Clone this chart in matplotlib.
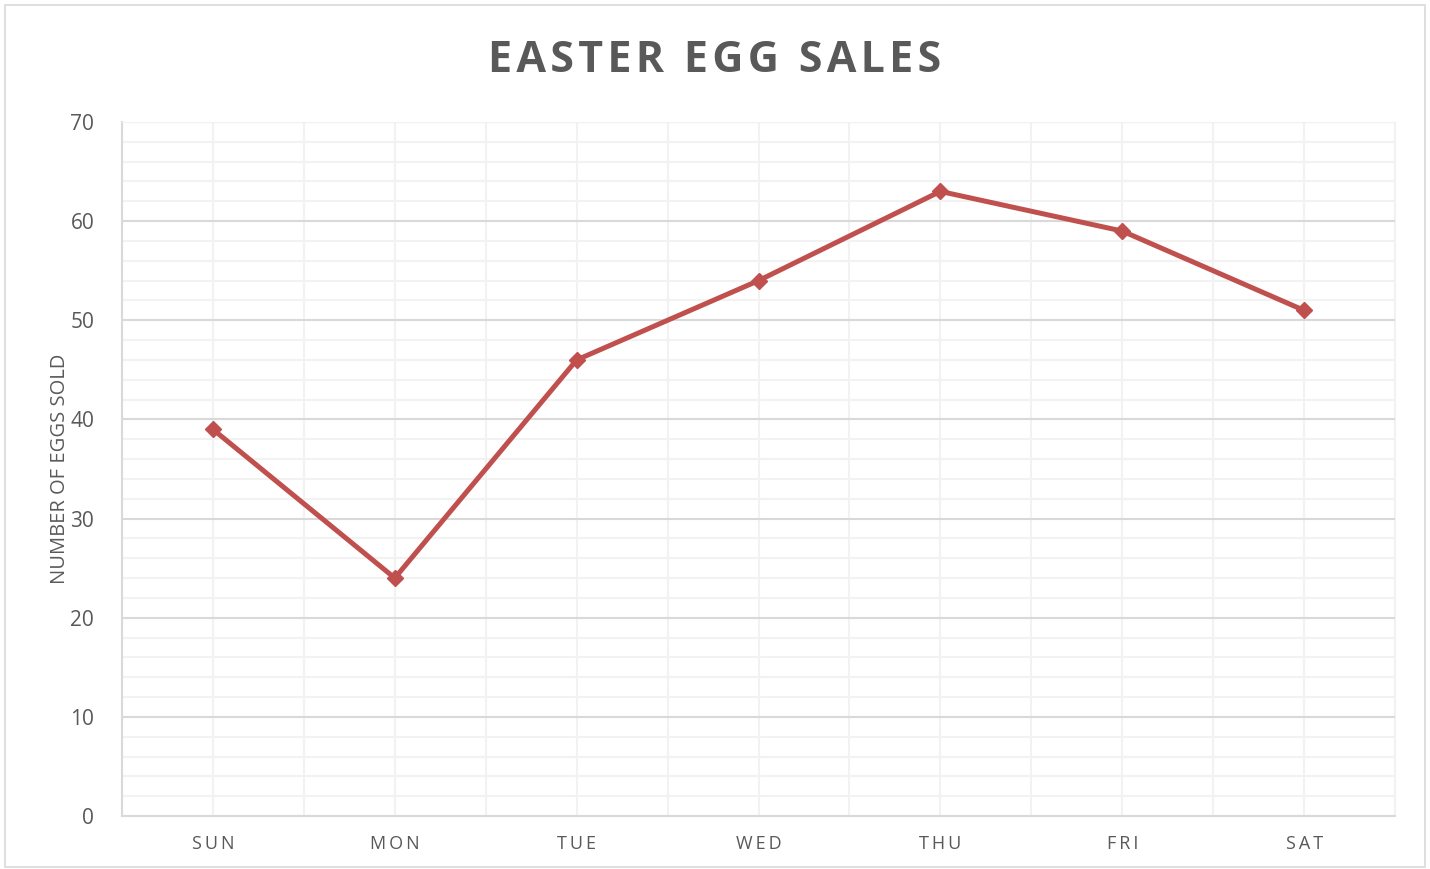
import matplotlib.pyplot as plt
from matplotlib.patches import Rectangle
from matplotlib.ticker import MultipleLocator

days = ['SUN', 'MON', 'TUE', 'WED', 'THU', 'FRI', 'SAT']
eggs = [39, 24, 46, 54, 63, 59, 51]

plt.rcParams['font.family'] = ['Open Sans', 'DejaVu Sans']
grey = '#595959'

fig = plt.figure(figsize=(14.3, 8.69), dpi=100)
ax = fig.add_axes([122 / 1430, 1 - 816 / 869, (1395 - 122) / 1430, (816 - 122) / 869])

# chart area border
fig.patches.append(Rectangle((5 / 1430, 0.002), 1420 / 1430, 1 - 5 / 869 - 0.002,
                             transform=fig.transFigure, fill=False,
                             edgecolor='#d9d9d9', lw=1.2))

x = list(range(len(days)))
ax.plot(x, eggs, color='#c0504d', lw=3.6, marker='D', markersize=8, zorder=3)

ax.set_xlim(-0.5, len(days) - 0.5)
ax.set_ylim(0, 70)
ax.yaxis.set_major_locator(MultipleLocator(10))
ax.yaxis.set_minor_locator(MultipleLocator(2))
ax.xaxis.set_minor_locator(MultipleLocator(0.5))
ax.set_xticks(x)
ax.set_xticklabels(['\u2009'.join(d) for d in days])

ax.grid(which='major', axis='y', color='#d9d9d9', lw=1.5)
ax.grid(which='minor', axis='y', color='#f2f2f2', lw=1.5)
ax.grid(which='both', axis='x', color='#f2f2f2', lw=1.5)
ax.set_axisbelow(True)

for s in ['top', 'right']:
    ax.spines[s].set_color('#f2f2f2')
for s in ['left', 'bottom']:
    ax.spines[s].set_color('#d9d9d9')
    ax.spines[s].set_linewidth(1.5)

ax.tick_params(which='both', length=0)
ax.tick_params(axis='y', labelsize=15, labelcolor=grey, pad=20)
ax.tick_params(axis='x', labelsize=13, labelcolor=grey, pad=14)

ax.set_ylabel('NUMBER OF EGGS SOLD', fontsize=14.5, color=grey, labelpad=0)
fig.text(0.5, 1 - 60 / 869, 'E\u200aA\u200aS\u200aT\u200aE\u200aR\u2009 E\u200aG\u200aG\u2009 S\u200aA\u200aL\u200aE\u200aS',
         ha='center', va='center', fontsize=31, fontweight='bold', color=grey)

fig.savefig('out.png', dpi=100)
